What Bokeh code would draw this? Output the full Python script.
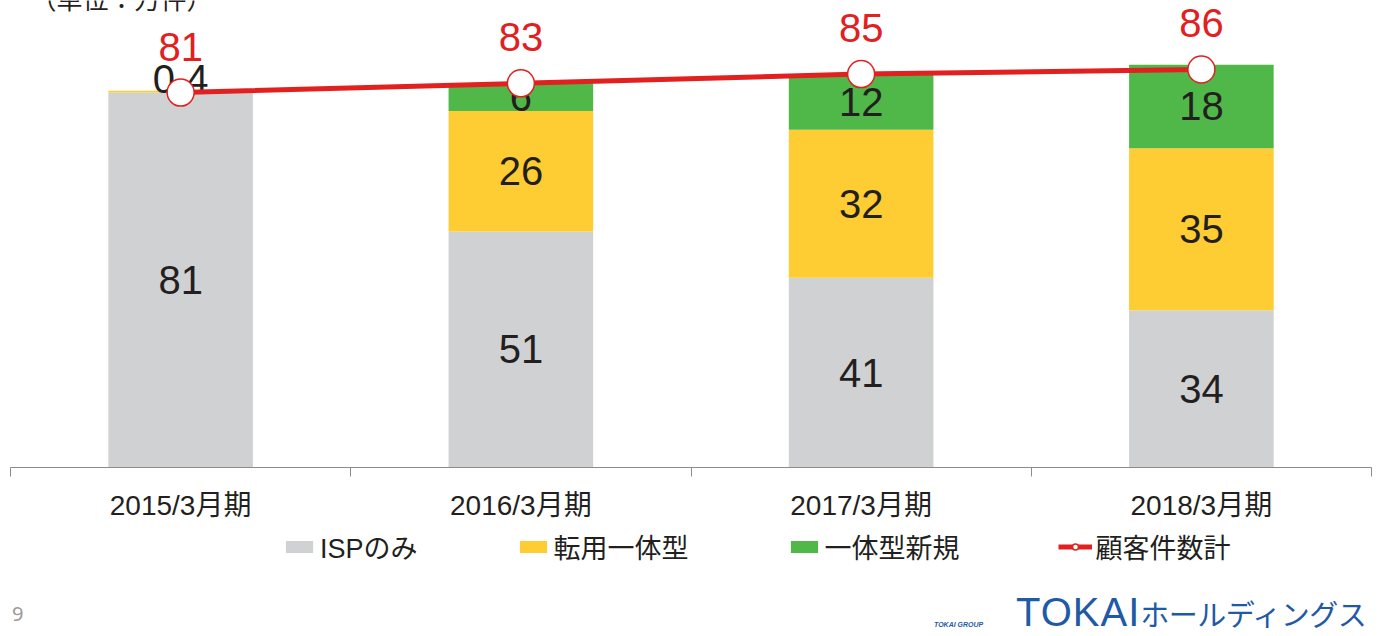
from bokeh.plotting import figure
from bokeh.layouts import column, row
from bokeh.models import ColumnDataSource, FixedTicker, Legend, LegendItem, Label, Range1d, Div
from bokeh.core.properties import value
from bokeh.embed import file_html
from bokeh.resources import INLINE
import numpy as np

# ---- data ----
categories = ["2015/3月期", "2016/3月期", "2017/3月期", "2018/3月期"]
isp_only = [81, 51, 41, 34]
tenyo_ittai = [0.4, 26, 32, 35]
ittai_shinki = [0, 6, 12, 18]
totals = [81, 83, 85, 86]
series_names = ["ISPのみ", "転用一体型", "一体型新規"]
line_name = "顧客件数計"
unit_text = "（単位：万件）"
page_no = "9"
logo_main = "TOKAI"
logo_kana = "ホールディングス"
logo_small = "TOKAI GROUP"

colors = ["#d0d1d3", "#fecd33", "#50b848"]
RED = "#e1201f"
BLUE = "#1f5aa6"
NUM_FONT = "Liberation Sans"
CAT_FONT = "Liberation Sans, Noto Sans CJK JP"

x = np.arange(len(categories)) + 0.5
keys = ["s0", "s1", "s2"]
data = dict(x=x, s0=isp_only, s1=tenyo_ittai, s2=ittai_shinki, total=totals,
            total_txt=[f"{v:g}" for v in totals])
src = ColumnDataSource(data)

H = 530
p = figure(width=1383, height=H, x_range=Range1d(0, len(categories)),
           y_range=Range1d(0, 100.9), output_backend="svg", toolbar_location=None,
           y_axis_location=None, min_border_left=10, min_border_right=12,
           min_border_top=0, min_border_bottom=H - 467)
p.outline_line_color = None
p.grid.visible = False

bars = p.vbar_stack(keys, x="x", width=0.425, color=colors, source=src, line_color=None)

# segment labels
lx, ly, lt, loff = [], [], [], []
series = [isp_only, tenyo_ittai, ittai_shinki]
for i in range(len(categories)):
    bottom = 0
    for s in series:
        v = s[i]
        if v > 0:
            lx.append(x[i])
            ly.append(bottom + v / 2)
            lt.append(f"{v:g}")
            loff.append(-13 if v < 2 else 0)
        bottom += v
lsrc = ColumnDataSource(dict(x=lx, y=ly, t=lt, off=loff))
p.text(x="x", y="y", text="t", y_offset="off", source=lsrc, text_align="center",
       text_baseline="middle", text_font=value(NUM_FONT), text_font_size="40px",
       text_color="#231f20")

# total line
ln = p.line(x="x", y="total", source=src, line_color=RED, line_width=5)
mk = p.scatter(x="x", y="total", source=src, size=27, fill_color="white",
               line_color=RED, line_width=1.5)
p.text(x="x", y="total", text="total_txt", source=src, y_offset=-46,
       text_align="center", text_baseline="middle", text_font=value(NUM_FONT),
       text_font_size="40px", text_color=RED)

# axis
ax = p.xaxis[0]
ax.ticker = FixedTicker(ticks=list(x), minor_ticks=list(range(len(categories) + 1)))
ax.major_label_overrides = {float(xi): c for xi, c in zip(x, categories)}
ax.major_tick_line_color = None
ax.major_tick_out = 0
ax.major_tick_in = 0
ax.minor_tick_in = 0
ax.minor_tick_out = 9
ax.minor_tick_line_color = "#8c8c8c"
ax.axis_line_color = "#8c8c8c"
ax.major_label_standoff = 13
ax.major_label_text_font = CAT_FONT
ax.major_label_text_font_size = "28px"
ax.major_label_text_color = "#231f20"

# unit note (top-left, partly cut off as in the slide)
p.add_layout(Label(x=20, y=468, x_units="screen", y_units="screen", text=unit_text,
                   text_font=CAT_FONT, text_font_size="26px", text_color="#231f20",
                   text_baseline="middle"))

# legend row (separate strip; legend glyphs reuse the series, kept out of view)
lf = figure(width=1383, height=50, x_range=Range1d(0, len(categories)),
            y_range=Range1d(1000, 1001),
            output_backend="svg", toolbar_location=None, x_axis_location=None,
            y_axis_location=None, min_border=0)
lf.outline_line_color = None
lf.grid.visible = False
proxies = lf.vbar_stack(keys, x="x", width=0.425, color=colors, source=src, line_color=None)
pl = lf.line(x="x", y="total", source=src, line_color=RED, line_width=5)
pm = lf.scatter(x="x", y="total", source=src, size=15, fill_color="white",
                line_color=RED, line_width=1.5)
items = [LegendItem(label=n, renderers=[r]) for n, r in zip(series_names, proxies)]
items.append(LegendItem(label=line_name, renderers=[pl, pm]))
legend = Legend(items=items, orientation="horizontal", location=(272, 14),
                glyph_width=34, glyph_height=15, label_standoff=4, spacing=98,
                padding=0, margin=0, border_line_color=None,
                background_fill_alpha=0, label_text_font=CAT_FONT,
                label_text_font_size="27px", label_text_color="#231f20")
lf.add_layout(legend, "center")

# footer: page number and logo
left = Div(width=925, height=56, text=(
    f'<div style="position:relative;height:56px">'
    f'<span style="position:absolute;left:7px;top:19px;font-family:\'Noto Sans\';'
    f'font-size:20px;line-height:20px;color:#9a9a9a">{page_no}</span></div>'))
right = Div(width=458, height=56, text=(
    f'<div style="position:relative;height:56px;white-space:nowrap">'
    f'<span style="position:absolute;left:-6px;top:36px;font-family:\'Liberation Sans\';'
    f'font-style:italic;font-weight:bold;font-size:7px;line-height:8px;color:{BLUE}">{logo_small}</span>'
    f'<span style="position:absolute;left:76px;top:5px;font-family:\'Liberation Sans\';'
    f'font-size:40px;line-height:44px;letter-spacing:1px;color:{BLUE}">{logo_main}'
    f'<span style="font-family:\'Noto Sans CJK JP\';font-size:29px;letter-spacing:-0.5px">{logo_kana}</span>'
    f'</span></div>'))

layout = column(p, lf, row(left, right))
open("out.html", "w").write(file_html(layout, INLINE))
